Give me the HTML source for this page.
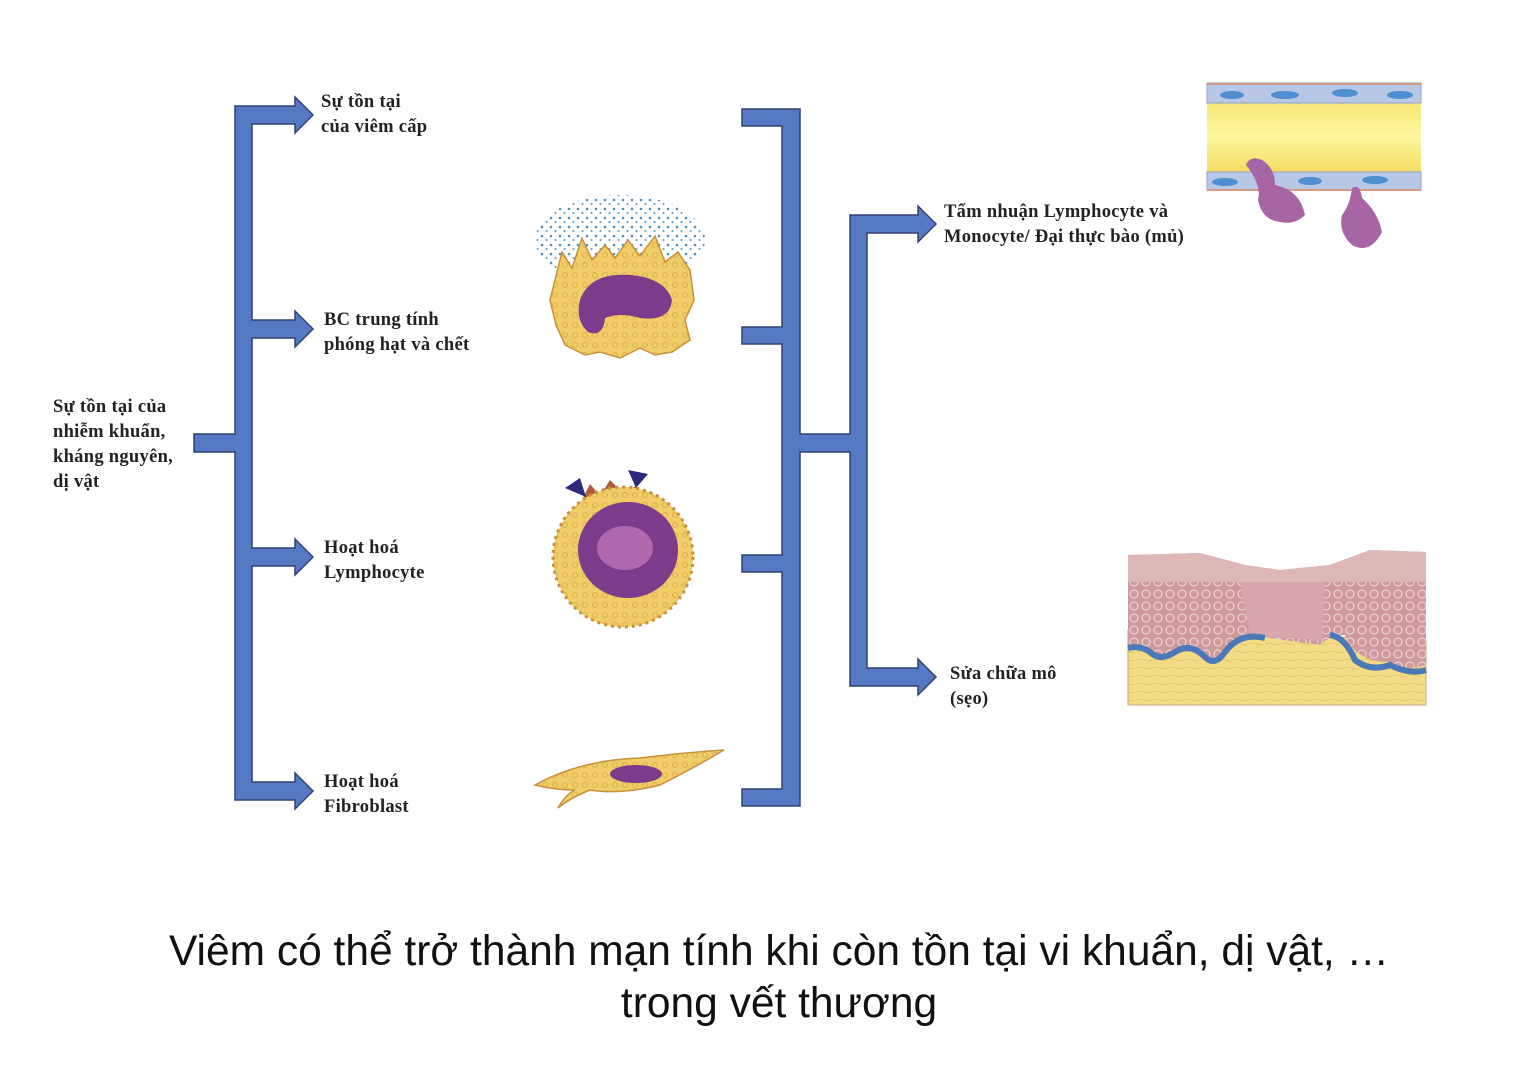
<!DOCTYPE html>
<html><head><meta charset="utf-8"><style>
html,body{margin:0;padding:0;background:#fff;}
body{width:1536px;height:1073px;position:relative;overflow:hidden;}
.t{position:absolute;font-family:"Liberation Serif",serif;font-weight:bold;font-size:18.5px;line-height:25px;color:#222;white-space:nowrap;letter-spacing:0.3px;}
.cap{position:absolute;left:0;width:1558px;text-align:center;font-family:"Liberation Sans",sans-serif;font-size:42.5px;line-height:52px;color:#111;}
svg{position:absolute;left:0;top:0;}
</style></head><body>
<svg width="1536" height="1073" viewBox="0 0 1536 1073">
<defs>
<pattern id="dots" width="9" height="9" patternUnits="userSpaceOnUse">
<circle cx="2" cy="2" r="1.3" fill="#4d8fc0"/><circle cx="6.5" cy="6" r="1.1" fill="#6aa6d0"/></pattern>
<pattern id="gran" width="10" height="10" patternUnits="userSpaceOnUse">
<rect width="10" height="10" fill="#f0cd66"/><circle cx="5" cy="5" r="2.5" fill="none" stroke="#d8a848" stroke-width="0.8"/></pattern>
<pattern id="pink" width="12" height="12" patternUnits="userSpaceOnUse">
<rect width="12" height="12" fill="#cf9a9e"/><circle cx="6" cy="6" r="4" fill="none" stroke="#f1dada" stroke-width="1"/></pattern>
<pattern id="yel" width="16" height="8" patternUnits="userSpaceOnUse">
<rect width="16" height="8" fill="#f3dc86"/><path d="M1 4 Q5 2 9 4 T15 4" stroke="#e2c060" fill="none" stroke-width="0.8"/></pattern>
<linearGradient id="vessel" x1="0" y1="0" x2="0" y2="1"><stop offset="0" stop-color="#f5e060"/><stop offset="0.5" stop-color="#fdf7a0"/><stop offset="1" stop-color="#efcc40"/></linearGradient>
</defs>
<g fill="#5679c4" stroke="#2f4272" stroke-width="1.5">
<path d="M235 106 L295 106 L295 97 L313 115 L295 133 L295 124 L252 124 L252 320 L295 320 L295 311 L313 329 L295 347 L295 338 L252 338 L252 548 L295 548 L295 539 L313 557 L295 575 L295 566 L252 566 L252 782 L295 782 L295 773 L313 791 L295 809 L295 800 L235 800 L235 452 L194 452 L194 434 L235 434 Z"/>
<path d="M742 109 L800 109 L800 434 L850 434 L850 215 L918 215 L918 206 L936 224 L918 242 L918 233 L867 233 L867 668 L918 668 L918 659 L936 677 L918 695 L918 686 L850 686 L850 452 L800 452 L800 806 L742 806 L742 789 L782 789 L782 572 L742 572 L742 555 L782 555 L782 344 L742 344 L742 327 L782 327 L782 126 L742 126 Z"/>
</g>
<ellipse cx="620" cy="240" rx="85" ry="45" fill="url(#dots)"/>
<path d="M555 280 L562 252 L572 268 L582 238 L592 260 L605 245 L615 258 L628 240 L640 256 L655 236 L665 262 L678 252 L690 270 L694 300 L685 320 L690 340 L672 352 L655 355 L640 348 L620 358 L600 352 L585 355 L565 345 L556 325 L550 300 Z" fill="url(#gran)" stroke="#c89040" stroke-width="1.5"/>
<path d="M580 300 Q590 272 630 275 Q665 278 672 300 Q670 322 640 318 Q620 312 605 318 Q603 338 588 332 Q575 320 580 300Z" fill="#7c3c8c"/>
<path d="M583 498 L590 484 L600 496 L610 480 L622 492 L637 486 L632 500 L620 494Z" fill="#b05a3a"/>
<polygon points="565,488 580,478 586,497" fill="#2d2a7a"/><polygon points="628,470 648,474 636,488" fill="#2d2a7a"/>
<circle cx="623" cy="557" r="70" fill="url(#gran)" stroke="#c89040" stroke-width="3" stroke-dasharray="3 4"/>
<ellipse cx="628" cy="550" rx="50" ry="48" fill="#7c3c8c"/>
<ellipse cx="625" cy="548" rx="28" ry="22" fill="#c57bb8" opacity="0.7"/>
<path d="M535 785 Q580 760 640 758 Q690 752 724 750 Q690 770 660 785 Q620 795 590 790 Q570 798 558 808 Q565 795 575 790 Q555 790 535 785Z" fill="url(#gran)" stroke="#c89040" stroke-width="1.5"/>
<ellipse cx="636" cy="774" rx="26" ry="9" fill="#7c3c8c"/>
<rect x="1207" y="83" width="214" height="108" fill="url(#vessel)"/>
<rect x="1207" y="83" width="214" height="20" fill="#b9c7e6" stroke="#8fa0cf"/>
<rect x="1207" y="172" width="214" height="18" fill="#b9c7e6" stroke="#8fa0cf"/>
<line x1="1207" y1="84" x2="1421" y2="84" stroke="#d49b86" stroke-width="2"/>
<line x1="1207" y1="190" x2="1421" y2="190" stroke="#d49b86" stroke-width="2"/>
<g fill="#4f8fcf"><ellipse cx="1232" cy="95" rx="12" ry="4"/><ellipse cx="1285" cy="95" rx="14" ry="4"/><ellipse cx="1345" cy="93" rx="13" ry="4"/><ellipse cx="1400" cy="95" rx="13" ry="4"/><ellipse cx="1225" cy="182" rx="13" ry="4"/><ellipse cx="1310" cy="181" rx="12" ry="4"/><ellipse cx="1375" cy="180" rx="13" ry="4"/></g>
<path d="M1246 165 Q1250 155 1262 160 Q1275 168 1275 185 Q1300 190 1305 215 Q1295 225 1280 222 Q1262 220 1258 200 Q1262 185 1246 165Z" fill="#a765a6"/>
<path d="M1352 188 Q1360 183 1362 198 Q1378 212 1382 232 Q1370 255 1352 245 Q1338 232 1342 215 Q1350 205 1352 188Z" fill="#a765a6"/>
<!-- tissue -->
<path d="M1128 630 L1426 640 L1426 705 L1128 705Z" fill="url(#yel)" stroke="#c8a888"/>
<path d="M1128 555 L1200 553 L1245 565 L1280 570 L1330 565 L1370 550 L1426 552 L1426 665 Q1405 672 1385 662 Q1355 660 1345 635 Q1330 635 1320 645 L1270 638 Q1240 630 1225 650 Q1215 665 1205 655 Q1190 640 1175 650 Q1160 660 1150 650 Q1140 645 1128 648Z" fill="url(#pink)"/>
<path d="M1128 555 L1200 553 L1245 565 L1280 570 L1330 565 L1370 550 L1426 552 L1426 582 L1128 582Z" fill="#ddb8b6"/>
<path d="M1240 582 L1325 582 L1322 640 L1250 636Z" fill="#d8a7ad"/>
<path d="M1128 648 Q1140 645 1150 652 Q1160 662 1175 652 Q1190 642 1205 657 Q1215 667 1225 652 Q1240 632 1265 638 M1330 635 Q1345 637 1355 660 Q1370 672 1390 665 Q1410 675 1426 670" fill="none" stroke="#4a78b8" stroke-width="6"/>
</svg>
<div class="t" style="left:321px;top:90px">Sự tồn tại<br>của viêm cấp</div>
<div class="t" style="left:324px;top:308px">BC trung tính<br>phóng hạt và chết</div>
<div class="t" style="left:53px;top:395px">Sự tồn tại của<br>nhiễm khuẩn,<br>kháng nguyên,<br>dị vật</div>
<div class="t" style="left:324px;top:536px">Hoạt hoá<br>Lymphocyte</div>
<div class="t" style="left:324px;top:770px">Hoạt hoá<br>Fibroblast</div>
<div class="t" style="left:944px;top:200px">Tẩm nhuận Lymphocyte và<br>Monocyte/ Đại thực bào (mủ)</div>
<div class="t" style="left:950px;top:662px">Sửa chữa mô<br>(sẹo)</div>
<div class="cap" style="top:926px">Viêm có thể trở thành mạn tính khi còn tồn tại vi khuẩn, dị vật, …<br>trong vết thương</div>
</body></html>
